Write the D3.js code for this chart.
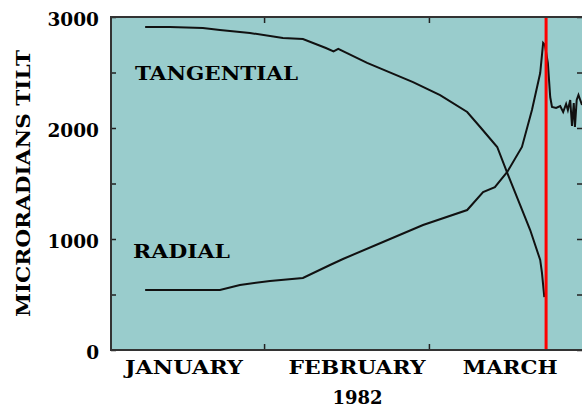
<!DOCTYPE html>
<html>
<head>
<meta charset="utf-8">
<script src="https://cdn.jsdelivr.net/npm/d3@7"></script>
<style>
  body { margin: 0; background: #fff; }
  svg { display: block; }
</style>
</head>
<body>
<div id="chart"></div>
<script>
// days counted from Jan 1 1982 (Jan 1 = 0)
const tangentialDays = [10.8, 15.0, 20.6, 23.5, 28.6, 34.2, 37.6, 41.5, 42.8, 43.6, 48.5, 56.3, 60.9, 65.5, 67.7, 70.6, 72.3, 74.5, 76.2, 77.9, 78.2, 78.6]
const tangentialTilt = [2910, 2910, 2900, 2883, 2856, 2811, 2802, 2721, 2690, 2712, 2586, 2414, 2297, 2144, 2009, 1829, 1595, 1306, 1081, 811, 694, 477]

const radialDays = [10.8, 23.5, 26.9, 32.0, 37.6, 42.2, 44.4, 51.2, 58.0, 65.5, 68.2, 70.2, 72.3, 74.8, 76.5, 77.9, 78.4, 78.7, 79.2, 79.6, 79.9, 80.6, 81.3, 81.8, 82.3, 82.6, 83.0, 83.3, 83.6, 83.8, 84.1, 84.4, 85.0]
const radialTilt = [541, 541, 586, 622, 649, 766, 820, 973, 1126, 1261, 1423, 1468, 1604, 1829, 2162, 2495, 2766, 2748, 2586, 2279, 2189, 2180, 2198, 2144, 2216, 2162, 2252, 2018, 2225, 2009, 2252, 2297, 2207]

const eruptionDay = 78.9
const monthStarts = [31, 59]
const monthLabels = ["JANUARY", "FEBRUARY", "MARCH"]
const monthLabelDays = [17.4, 46.8, 72.8]
const yearLabel = "1982"
const yTickLabels = [0, 1000, 2000, 3000]
const yMinorTicks = [0, 500, 1000, 1500, 2000, 2500, 3000]

/* Chart Dimensions */
const dimensions = {
  width: 582,
  height: 408,
  margin: { top: 17, right: 0, bottom: 58, left: 111 }
}
dimensions.boundedWidth = dimensions.width - dimensions.margin.left - dimensions.margin.right
dimensions.boundedHeight = dimensions.height - dimensions.margin.top - dimensions.margin.bottom

const svg = d3.select("#chart").append("svg")
    .attr("width", dimensions.width)
    .attr("height", dimensions.height)

const font = "'DejaVu Serif', serif"

/* Scales */
const xScale = d3.scaleLinear()
    .domain([5, 85])
    .range([dimensions.margin.left, dimensions.width - dimensions.margin.right])

const yScale = d3.scaleLinear()
    .domain([0, 3000])
    .range([dimensions.height - dimensions.margin.bottom, dimensions.margin.top])

const x0 = xScale.range()[0], x1 = xScale.range()[1]
const yTop = yScale(3000), yBot = yScale(0)

svg.append("defs").append("clipPath").attr("id", "plot")
  .append("rect")
    .attr("x", x0).attr("y", yTop)
    .attr("width", x1 - x0).attr("height", yBot - yTop)

svg.append("rect")
    .attr("x", x0).attr("y", yTop)
    .attr("width", x1 - x0).attr("height", yBot - yTop)
    .attr("fill", "#99cccc")

/* Data lines */
const line = d3.line()
    .x(d => xScale(d[0]))
    .y(d => yScale(d[1]))

const plot = svg.append("g").attr("clip-path", "url(#plot)")

plot.append("path")
    .datum(d3.zip(tangentialDays, tangentialTilt))
    .attr("d", line)
    .attr("fill", "none")
    .attr("stroke", "#111")
    .attr("stroke-width", 2)

plot.append("path")
    .datum(d3.zip(radialDays, radialTilt))
    .attr("d", line)
    .attr("fill", "none")
    .attr("stroke", "#111")
    .attr("stroke-width", 2)

plot.append("line")
    .attr("x1", xScale(eruptionDay)).attr("x2", xScale(eruptionDay))
    .attr("y1", yTop).attr("y2", yBot)
    .attr("stroke", "#ff0000")
    .attr("stroke-width", 3)

/* Axes */
const tickStyle = g => g.call(g => g.select(".domain").remove())
    .call(g => g.selectAll("line").attr("stroke", "#222").attr("stroke-width", 1.5))
    .call(g => g.selectAll("text").remove())

svg.append("g")
    .attr("transform", `translate(0,${yBot})`)
    .call(d3.axisTop(xScale).tickValues(monthStarts).tickSizeOuter(0).tickSize(6))
    .call(tickStyle)
svg.append("g")
    .attr("transform", `translate(0,${yTop})`)
    .call(d3.axisBottom(xScale).tickValues(monthStarts).tickSizeOuter(0).tickSize(6))
    .call(tickStyle)
svg.append("g")
    .attr("transform", `translate(${x0},0)`)
    .call(d3.axisRight(yScale).tickValues(yMinorTicks).tickSizeOuter(0).tickSize(5))
    .call(tickStyle)
svg.append("g")
    .attr("transform", `translate(${x1},0)`)
    .call(d3.axisLeft(yScale).tickValues(yMinorTicks).tickSizeOuter(0).tickSize(5))
    .call(tickStyle)

// frame
svg.append("path")
    .attr("d", `M${x1},${yTop}H${x0}V${yBot}H${x1}`)
    .attr("fill", "none")
    .attr("stroke", "#333")
    .attr("stroke-width", 2)

/* Labels */
svg.append("g").selectAll("text")
  .data(yTickLabels)
  .join("text")
    .attr("x", 99)
    .attr("y", d => yScale(d) + 9)
    .attr("text-anchor", "end")
    .attr("font-family", font)
    .attr("font-weight", "bold")
    .attr("font-size", "18.5px")
    .attr("fill", "#000")
    .text(d => d)

const monthWidths = [118, 137, 95]
svg.append("g").selectAll("text")
  .data(monthLabels)
  .join("text")
    .attr("x", (d, i) => xScale(monthLabelDays[i]))
    .attr("y", 374)
    .attr("text-anchor", "middle")
    .attr("font-family", font)
    .attr("font-weight", "bold")
    .attr("font-size", "19px")
    .attr("textLength", (d, i) => monthWidths[i])
    .attr("lengthAdjust", "spacingAndGlyphs")
    .attr("fill", "#000")
    .text(d => d)

svg.append("text")
    .attr("x", 357.5)
    .attr("y", 404)
    .attr("text-anchor", "middle")
    .attr("font-family", font)
    .attr("font-weight", "bold")
    .attr("font-size", "18px")
    .attr("fill", "#000")
    .text(yearLabel)

svg.append("text")
    .attr("transform", "translate(30,183.5) rotate(-90)")
    .attr("text-anchor", "middle")
    .attr("font-family", font)
    .attr("font-weight", "bold")
    .attr("font-size", "19px")
    .attr("textLength", 267)
    .attr("lengthAdjust", "spacingAndGlyphs")
    .attr("fill", "#000")
    .text("MICRORADIANS TILT")

svg.append("text")
    .attr("x", 135).attr("y", 80)
    .attr("font-family", font)
    .attr("font-weight", "bold")
    .attr("font-size", "19px")
    .attr("textLength", 163)
    .attr("lengthAdjust", "spacingAndGlyphs")
    .attr("fill", "#000")
    .text("TANGENTIAL")

svg.append("text")
    .attr("x", 133).attr("y", 258)
    .attr("font-family", font)
    .attr("font-weight", "bold")
    .attr("font-size", "19px")
    .attr("textLength", 97)
    .attr("lengthAdjust", "spacingAndGlyphs")
    .attr("fill", "#000")
    .text("RADIAL")
</script>
</body>
</html>
